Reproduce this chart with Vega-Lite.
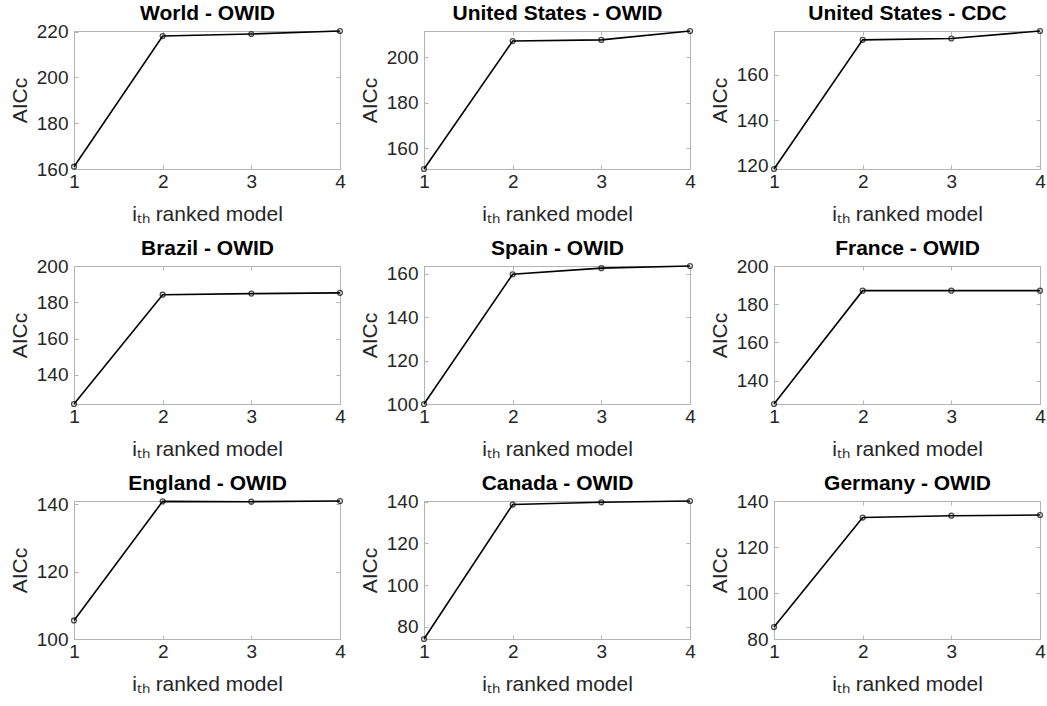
{
  "$schema": "https://vega.github.io/schema/vega-lite/v6.json",
  "background": "white",
  "padding": {"left": 8, "top": 1, "right": 2, "bottom": 2},
  "data": {
    "values": [
      {"panel": "World - OWID", "rank": 1, "aicc": 161.0},
      {"panel": "World - OWID", "rank": 2, "aicc": 218.1},
      {"panel": "World - OWID", "rank": 3, "aicc": 219.0},
      {"panel": "World - OWID", "rank": 4, "aicc": 220.3},
      {"panel": "United States - OWID", "rank": 1, "aicc": 151.0},
      {"panel": "United States - OWID", "rank": 2, "aicc": 207.0},
      {"panel": "United States - OWID", "rank": 3, "aicc": 207.5},
      {"panel": "United States - OWID", "rank": 4, "aicc": 211.4},
      {"panel": "United States - CDC", "rank": 1, "aicc": 118.5},
      {"panel": "United States - CDC", "rank": 2, "aicc": 175.5},
      {"panel": "United States - CDC", "rank": 3, "aicc": 176.1},
      {"panel": "United States - CDC", "rank": 4, "aicc": 179.4},
      {"panel": "Brazil - OWID", "rank": 1, "aicc": 124.0},
      {"panel": "Brazil - OWID", "rank": 2, "aicc": 184.2},
      {"panel": "Brazil - OWID", "rank": 3, "aicc": 184.8},
      {"panel": "Brazil - OWID", "rank": 4, "aicc": 185.2},
      {"panel": "Spain - OWID", "rank": 1, "aicc": 100.0},
      {"panel": "Spain - OWID", "rank": 2, "aicc": 159.7},
      {"panel": "Spain - OWID", "rank": 3, "aicc": 162.5},
      {"panel": "Spain - OWID", "rank": 4, "aicc": 163.5},
      {"panel": "France - OWID", "rank": 1, "aicc": 127.8},
      {"panel": "France - OWID", "rank": 2, "aicc": 187.1},
      {"panel": "France - OWID", "rank": 3, "aicc": 187.1},
      {"panel": "France - OWID", "rank": 4, "aicc": 187.1},
      {"panel": "England - OWID", "rank": 1, "aicc": 105.5},
      {"panel": "England - OWID", "rank": 2, "aicc": 140.8},
      {"panel": "England - OWID", "rank": 3, "aicc": 140.7},
      {"panel": "England - OWID", "rank": 4, "aicc": 140.9},
      {"panel": "Canada - OWID", "rank": 1, "aicc": 74.1},
      {"panel": "Canada - OWID", "rank": 2, "aicc": 138.7},
      {"panel": "Canada - OWID", "rank": 3, "aicc": 139.8},
      {"panel": "Canada - OWID", "rank": 4, "aicc": 140.4},
      {"panel": "Germany - OWID", "rank": 1, "aicc": 85.2},
      {"panel": "Germany - OWID", "rank": 2, "aicc": 132.8},
      {"panel": "Germany - OWID", "rank": 3, "aicc": 133.6},
      {"panel": "Germany - OWID", "rank": 4, "aicc": 133.9}
    ]
  },
  "columns": 3,
  "spacing": {"row": 11, "column": 12},
  "concat": [
    {
      "width": 266, "height": 138,
      "transform": [{"filter": "datum.panel === 'World - OWID'"}],
      "encoding": {
        "x": {"field": "rank", "type": "quantitative", "scale": {"domain": [1, 4], "nice": false, "zero": false}, "axis": {"values": [1, 2, 3, 4], "title": "iₜₕ ranked model"}},
        "y": {"field": "aicc", "type": "quantitative", "scale": {"domain": [160, 220.3], "nice": false, "zero": false}, "axis": {"values": [160, 180, 200, 220], "title": "AICc"}}
      },
      "layer": [
        {"mark": {"type": "line", "color": "black", "strokeWidth": 1.6}},
        {"mark": {"type": "point", "filled": false, "size": 24, "color": "black", "strokeWidth": 1.3},
         "encoding": {
           "x": {"field": "rank", "type": "quantitative", "axis": {"orient": "top", "values": [1, 2, 3, 4], "title": "World - OWID"}},
           "y": {"field": "aicc", "type": "quantitative", "axis": {"orient": "right", "values": [160, 180, 200, 220], "title": null}}
         }}
      ],
      "resolve": {"axis": {"x": "independent", "y": "independent"}}
    },
    {
      "width": 266, "height": 138,
      "transform": [{"filter": "datum.panel === 'United States - OWID'"}],
      "encoding": {
        "x": {"field": "rank", "type": "quantitative", "scale": {"domain": [1, 4], "nice": false, "zero": false}, "axis": {"values": [1, 2, 3, 4], "title": "iₜₕ ranked model"}},
        "y": {"field": "aicc", "type": "quantitative", "scale": {"domain": [151.0, 211.4], "nice": false, "zero": false}, "axis": {"values": [160, 180, 200], "title": "AICc"}}
      },
      "layer": [
        {"mark": {"type": "line", "color": "black", "strokeWidth": 1.6}},
        {"mark": {"type": "point", "filled": false, "size": 24, "color": "black", "strokeWidth": 1.3},
         "encoding": {
           "x": {"field": "rank", "type": "quantitative", "axis": {"orient": "top", "values": [1, 2, 3, 4], "title": "United States - OWID"}},
           "y": {"field": "aicc", "type": "quantitative", "axis": {"orient": "right", "values": [160, 180, 200], "title": null}}
         }}
      ],
      "resolve": {"axis": {"x": "independent", "y": "independent"}}
    },
    {
      "width": 266, "height": 138,
      "transform": [{"filter": "datum.panel === 'United States - CDC'"}],
      "encoding": {
        "x": {"field": "rank", "type": "quantitative", "scale": {"domain": [1, 4], "nice": false, "zero": false}, "axis": {"values": [1, 2, 3, 4], "title": "iₜₕ ranked model"}},
        "y": {"field": "aicc", "type": "quantitative", "scale": {"domain": [118.5, 179.4], "nice": false, "zero": false}, "axis": {"values": [120, 140, 160], "title": "AICc"}}
      },
      "layer": [
        {"mark": {"type": "line", "color": "black", "strokeWidth": 1.6}},
        {"mark": {"type": "point", "filled": false, "size": 24, "color": "black", "strokeWidth": 1.3},
         "encoding": {
           "x": {"field": "rank", "type": "quantitative", "axis": {"orient": "top", "values": [1, 2, 3, 4], "title": "United States - CDC"}},
           "y": {"field": "aicc", "type": "quantitative", "axis": {"orient": "right", "values": [120, 140, 160], "title": null}}
         }}
      ],
      "resolve": {"axis": {"x": "independent", "y": "independent"}}
    },
    {
      "width": 266, "height": 138,
      "transform": [{"filter": "datum.panel === 'Brazil - OWID'"}],
      "encoding": {
        "x": {"field": "rank", "type": "quantitative", "scale": {"domain": [1, 4], "nice": false, "zero": false}, "axis": {"values": [1, 2, 3, 4], "title": "iₜₕ ranked model"}},
        "y": {"field": "aicc", "type": "quantitative", "scale": {"domain": [124, 200], "nice": false, "zero": false}, "axis": {"values": [140, 160, 180, 200], "title": "AICc"}}
      },
      "layer": [
        {"mark": {"type": "line", "color": "black", "strokeWidth": 1.6}},
        {"mark": {"type": "point", "filled": false, "size": 24, "color": "black", "strokeWidth": 1.3},
         "encoding": {
           "x": {"field": "rank", "type": "quantitative", "axis": {"orient": "top", "values": [1, 2, 3, 4], "title": "Brazil - OWID"}},
           "y": {"field": "aicc", "type": "quantitative", "axis": {"orient": "right", "values": [140, 160, 180, 200], "title": null}}
         }}
      ],
      "resolve": {"axis": {"x": "independent", "y": "independent"}}
    },
    {
      "width": 266, "height": 138,
      "transform": [{"filter": "datum.panel === 'Spain - OWID'"}],
      "encoding": {
        "x": {"field": "rank", "type": "quantitative", "scale": {"domain": [1, 4], "nice": false, "zero": false}, "axis": {"values": [1, 2, 3, 4], "title": "iₜₕ ranked model"}},
        "y": {"field": "aicc", "type": "quantitative", "scale": {"domain": [100, 163.5], "nice": false, "zero": false}, "axis": {"values": [100, 120, 140, 160], "title": "AICc"}}
      },
      "layer": [
        {"mark": {"type": "line", "color": "black", "strokeWidth": 1.6}},
        {"mark": {"type": "point", "filled": false, "size": 24, "color": "black", "strokeWidth": 1.3},
         "encoding": {
           "x": {"field": "rank", "type": "quantitative", "axis": {"orient": "top", "values": [1, 2, 3, 4], "title": "Spain - OWID"}},
           "y": {"field": "aicc", "type": "quantitative", "axis": {"orient": "right", "values": [100, 120, 140, 160], "title": null}}
         }}
      ],
      "resolve": {"axis": {"x": "independent", "y": "independent"}}
    },
    {
      "width": 266, "height": 138,
      "transform": [{"filter": "datum.panel === 'France - OWID'"}],
      "encoding": {
        "x": {"field": "rank", "type": "quantitative", "scale": {"domain": [1, 4], "nice": false, "zero": false}, "axis": {"values": [1, 2, 3, 4], "title": "iₜₕ ranked model"}},
        "y": {"field": "aicc", "type": "quantitative", "scale": {"domain": [127.8, 200], "nice": false, "zero": false}, "axis": {"values": [140, 160, 180, 200], "title": "AICc"}}
      },
      "layer": [
        {"mark": {"type": "line", "color": "black", "strokeWidth": 1.6}},
        {"mark": {"type": "point", "filled": false, "size": 24, "color": "black", "strokeWidth": 1.3},
         "encoding": {
           "x": {"field": "rank", "type": "quantitative", "axis": {"orient": "top", "values": [1, 2, 3, 4], "title": "France - OWID"}},
           "y": {"field": "aicc", "type": "quantitative", "axis": {"orient": "right", "values": [140, 160, 180, 200], "title": null}}
         }}
      ],
      "resolve": {"axis": {"x": "independent", "y": "independent"}}
    },
    {
      "width": 266, "height": 138,
      "transform": [{"filter": "datum.panel === 'England - OWID'"}],
      "encoding": {
        "x": {"field": "rank", "type": "quantitative", "scale": {"domain": [1, 4], "nice": false, "zero": false}, "axis": {"values": [1, 2, 3, 4], "title": "iₜₕ ranked model"}},
        "y": {"field": "aicc", "type": "quantitative", "scale": {"domain": [100, 140.9], "nice": false, "zero": false}, "axis": {"values": [100, 120, 140], "title": "AICc"}}
      },
      "layer": [
        {"mark": {"type": "line", "color": "black", "strokeWidth": 1.6}},
        {"mark": {"type": "point", "filled": false, "size": 24, "color": "black", "strokeWidth": 1.3},
         "encoding": {
           "x": {"field": "rank", "type": "quantitative", "axis": {"orient": "top", "values": [1, 2, 3, 4], "title": "England - OWID"}},
           "y": {"field": "aicc", "type": "quantitative", "axis": {"orient": "right", "values": [100, 120, 140], "title": null}}
         }}
      ],
      "resolve": {"axis": {"x": "independent", "y": "independent"}}
    },
    {
      "width": 266, "height": 138,
      "transform": [{"filter": "datum.panel === 'Canada - OWID'"}],
      "encoding": {
        "x": {"field": "rank", "type": "quantitative", "scale": {"domain": [1, 4], "nice": false, "zero": false}, "axis": {"values": [1, 2, 3, 4], "title": "iₜₕ ranked model"}},
        "y": {"field": "aicc", "type": "quantitative", "scale": {"domain": [74.1, 140.4], "nice": false, "zero": false}, "axis": {"values": [80, 100, 120, 140], "title": "AICc"}}
      },
      "layer": [
        {"mark": {"type": "line", "color": "black", "strokeWidth": 1.6}},
        {"mark": {"type": "point", "filled": false, "size": 24, "color": "black", "strokeWidth": 1.3},
         "encoding": {
           "x": {"field": "rank", "type": "quantitative", "axis": {"orient": "top", "values": [1, 2, 3, 4], "title": "Canada - OWID"}},
           "y": {"field": "aicc", "type": "quantitative", "axis": {"orient": "right", "values": [80, 100, 120, 140], "title": null}}
         }}
      ],
      "resolve": {"axis": {"x": "independent", "y": "independent"}}
    },
    {
      "width": 266, "height": 138,
      "transform": [{"filter": "datum.panel === 'Germany - OWID'"}],
      "encoding": {
        "x": {"field": "rank", "type": "quantitative", "scale": {"domain": [1, 4], "nice": false, "zero": false}, "axis": {"values": [1, 2, 3, 4], "title": "iₜₕ ranked model"}},
        "y": {"field": "aicc", "type": "quantitative", "scale": {"domain": [80, 140], "nice": false, "zero": false}, "axis": {"values": [80, 100, 120, 140], "title": "AICc"}}
      },
      "layer": [
        {"mark": {"type": "line", "color": "black", "strokeWidth": 1.6}},
        {"mark": {"type": "point", "filled": false, "size": 24, "color": "black", "strokeWidth": 1.3},
         "encoding": {
           "x": {"field": "rank", "type": "quantitative", "axis": {"orient": "top", "values": [1, 2, 3, 4], "title": "Germany - OWID"}},
           "y": {"field": "aicc", "type": "quantitative", "axis": {"orient": "right", "values": [80, 100, 120, 140], "title": null}}
         }}
      ],
      "resolve": {"axis": {"x": "independent", "y": "independent"}}
    }
  ],
  "config": {
    "font": "Liberation Sans",
    "view": {"stroke": "#b4b4b4", "strokeWidth": 1},
    "axis": {
      "grid": false,
      "labelFont": "Liberation Sans",
      "labelFontSize": 19,
      "labelColor": "#262626",
      "titleFont": "Liberation Sans",
      "titleFontSize": 21,
      "titleFontWeight": "normal",
      "titleColor": "#262626",
      "domainColor": "#b4b4b4",
      "tickColor": "#b4b4b4",
      "tickSize": -4,
      "labelFlush": false,
      "labelOverlap": false
    },
    "axisBottom": {"labelPadding": 7, "minExtent": 22, "maxExtent": 22, "titlePadding": 12},
    "axisTop": {"labels": false, "domain": false, "minExtent": 0, "maxExtent": 0, "titlePadding": 12, "titleBaseline": "alphabetic", "titleFontWeight": "bold", "titleColor": "black", "titleFontSize": 21},
    "axisRight": {"labels": false, "domain": false, "minExtent": 0, "maxExtent": 0},
    "axisLeft": {"labelPadding": 10, "minExtent": 34, "maxExtent": 34, "titlePadding": 10}
  }
}
